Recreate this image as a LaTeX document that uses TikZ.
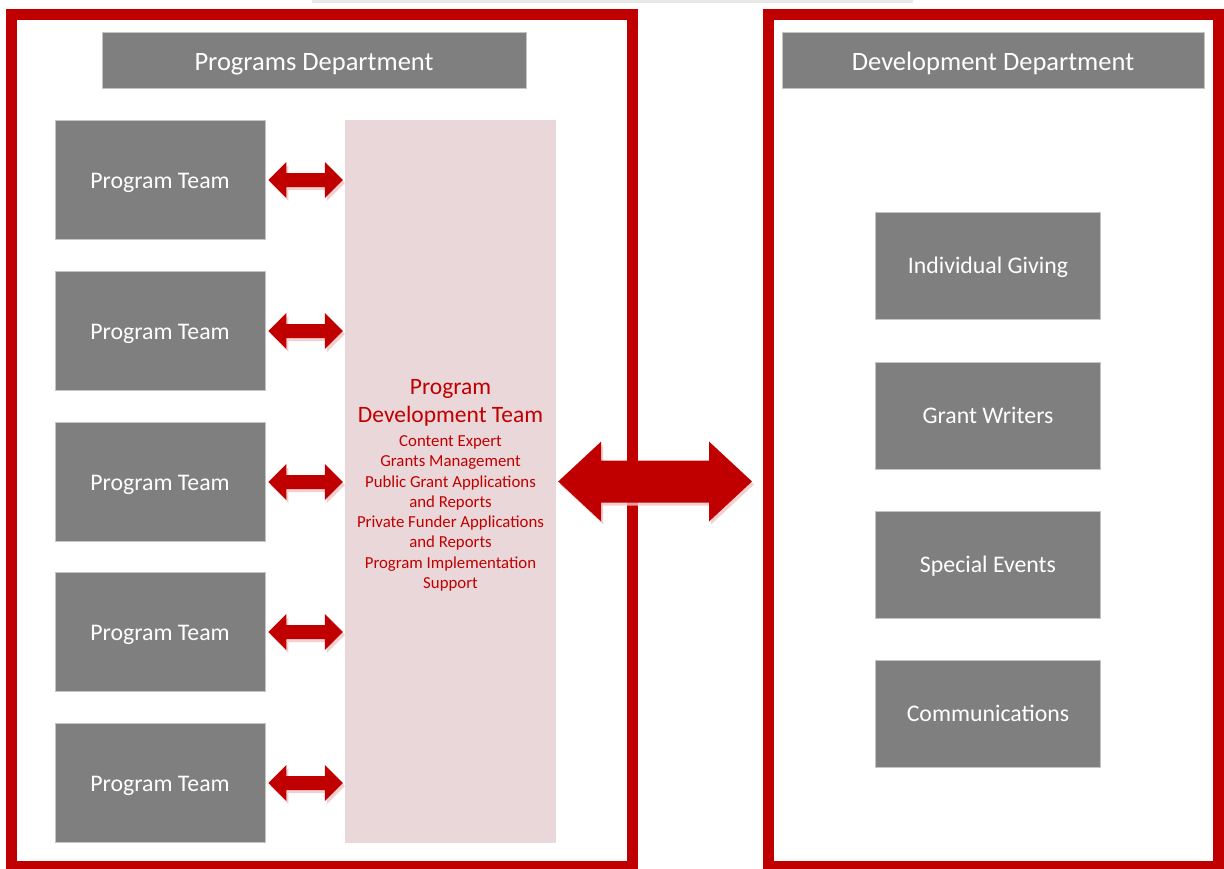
\documentclass[tikz,border=0pt]{standalone}
\usepackage{fontspec}
\setmainfont{Carlito}
\usetikzlibrary{calc,shadows}

\definecolor{framered}{RGB}{192,0,0}
\definecolor{boxgray}{RGB}{127,127,127}
\definecolor{boxedge}{RGB}{196,196,196}
\definecolor{pdtpink}{RGB}{234,215,217}
\definecolor{glowpink}{RGB}{242,196,196}

\newcommand\pdttitle{\fontsize{23.5}{27}\selectfont}

% block double arrow: #2 left tip, #3 right tip, #4 head length,
% #5 half height of the heads, #6 half height of the shaft
\newcommand\blockarrow[6][]{%
  \fill[framered,#1] (#2) -- ++(#4,{-#5}) -- ++(0,{#5-#6})
    -- ($(#3)+({-#4},{-#6})$) -- ++(0,{#6-#5}) -- (#3)
    -- ++({-#4},#5) -- ++(0,{#6-#5})
    -- ($(#2)+(#4,#6)$) -- ++(0,{#5-#6}) -- cycle;}

\begin{document}
\begin{tikzpicture}[x=1pt,y=-1pt,
  deptframe/.style={draw=framered, line width=11pt, inner sep=0pt},
  graybox/.style={fill=boxgray, draw=boxedge, line width=0.8pt, text=white, inner sep=0pt},
  header/.style={graybox, minimum width=424pt, minimum height=56pt,
    font=\fontsize{26.5}{30}\selectfont, text height=24pt, text depth=4pt},
  teambox/.style={graybox, minimum width=210pt, minimum height=119pt,
    font=\fontsize{23.8}{28}\selectfont, text height=20pt, text depth=4pt},
  unitbox/.style={graybox, minimum width=225pt, minimum height=107pt,
    font=\fontsize{23.8}{28}\selectfont, text height=19pt, text depth=4pt},
  pdtbox/.style={fill=pdtpink, minimum width=211pt, minimum height=723pt, inner sep=0pt},
  pdtlist/.style={inner sep=0pt, align=center, text=framered,
    font=\fontsize{16.8}{20.3}\selectfont},
  glow/.style={drop shadow={shadow xshift=2pt, shadow yshift=-3pt,
    fill=glowpink, opacity=0.8}}]

\useasboundingbox (0,0) rectangle (1224,868);
\fill[white] (0,0) rectangle (1224,868);

% faint edge of a shadow along the top
\fill[black!9] (312,0) rectangle (913,2.5);

% department frames
\node[deptframe, minimum width=621pt, minimum height=852pt] (progdept) at (321.5,440) {};
\node[deptframe, minimum width=450.5pt, minimum height=852pt] (devdept) at (993.25,440) {};

% headers
\node[header] (progtitle) at (314,60) {Programs Department};
\node[header, minimum width=422pt] (devtitle) at (993,60) {Development Department};

% program development team
\node[pdtbox] (pdt) at (450.5,481.5) {};
\node[pdtlist] (pdttext) at (450.5,485.5)
  {{\pdttitle Program}\\[6.5pt]{\pdttitle Development Team}\\[3.5pt]Content Expert\\Grants Management\\Public Grant Applications\\and Reports\\Private Funder Applications\\and Reports\\Program Implementation\\Support};

% program teams and their links to the development team
\foreach \i/\y in {1/180,2/331,3/482,4/632,5/783}{
  \node[teambox] (pt\i) at (160,\y) {Program Team};
  \coordinate (pt\i l) at ($(pt\i.east)+(3,0)$);
  \coordinate (pt\i r) at ($(pt\i.east -| pdt.west)+(-2,0)$);
  \blockarrow[glow]{pt\i l}{pt\i r}{18}{18}{7}
}

% development department units
\node[unitbox] (giving) at (988,265.5) {Individual Giving};
\node[unitbox] (grants) at (988,415.5) {Grant Writers};
\node[unitbox] (events) at (988,564.5) {Special Events};
\node[unitbox] (comms)  at (988,714)   {Communications};

% link between the two departments
\coordinate (bigl) at ($(pdt.east)+(2,0)$);
\coordinate (bigr) at ($(pdt.east -| devdept.west)+(-10.5,0)$);
\blockarrow[glow]{bigl}{bigr}{43}{40}{21}

\end{tikzpicture}
\end{document}
